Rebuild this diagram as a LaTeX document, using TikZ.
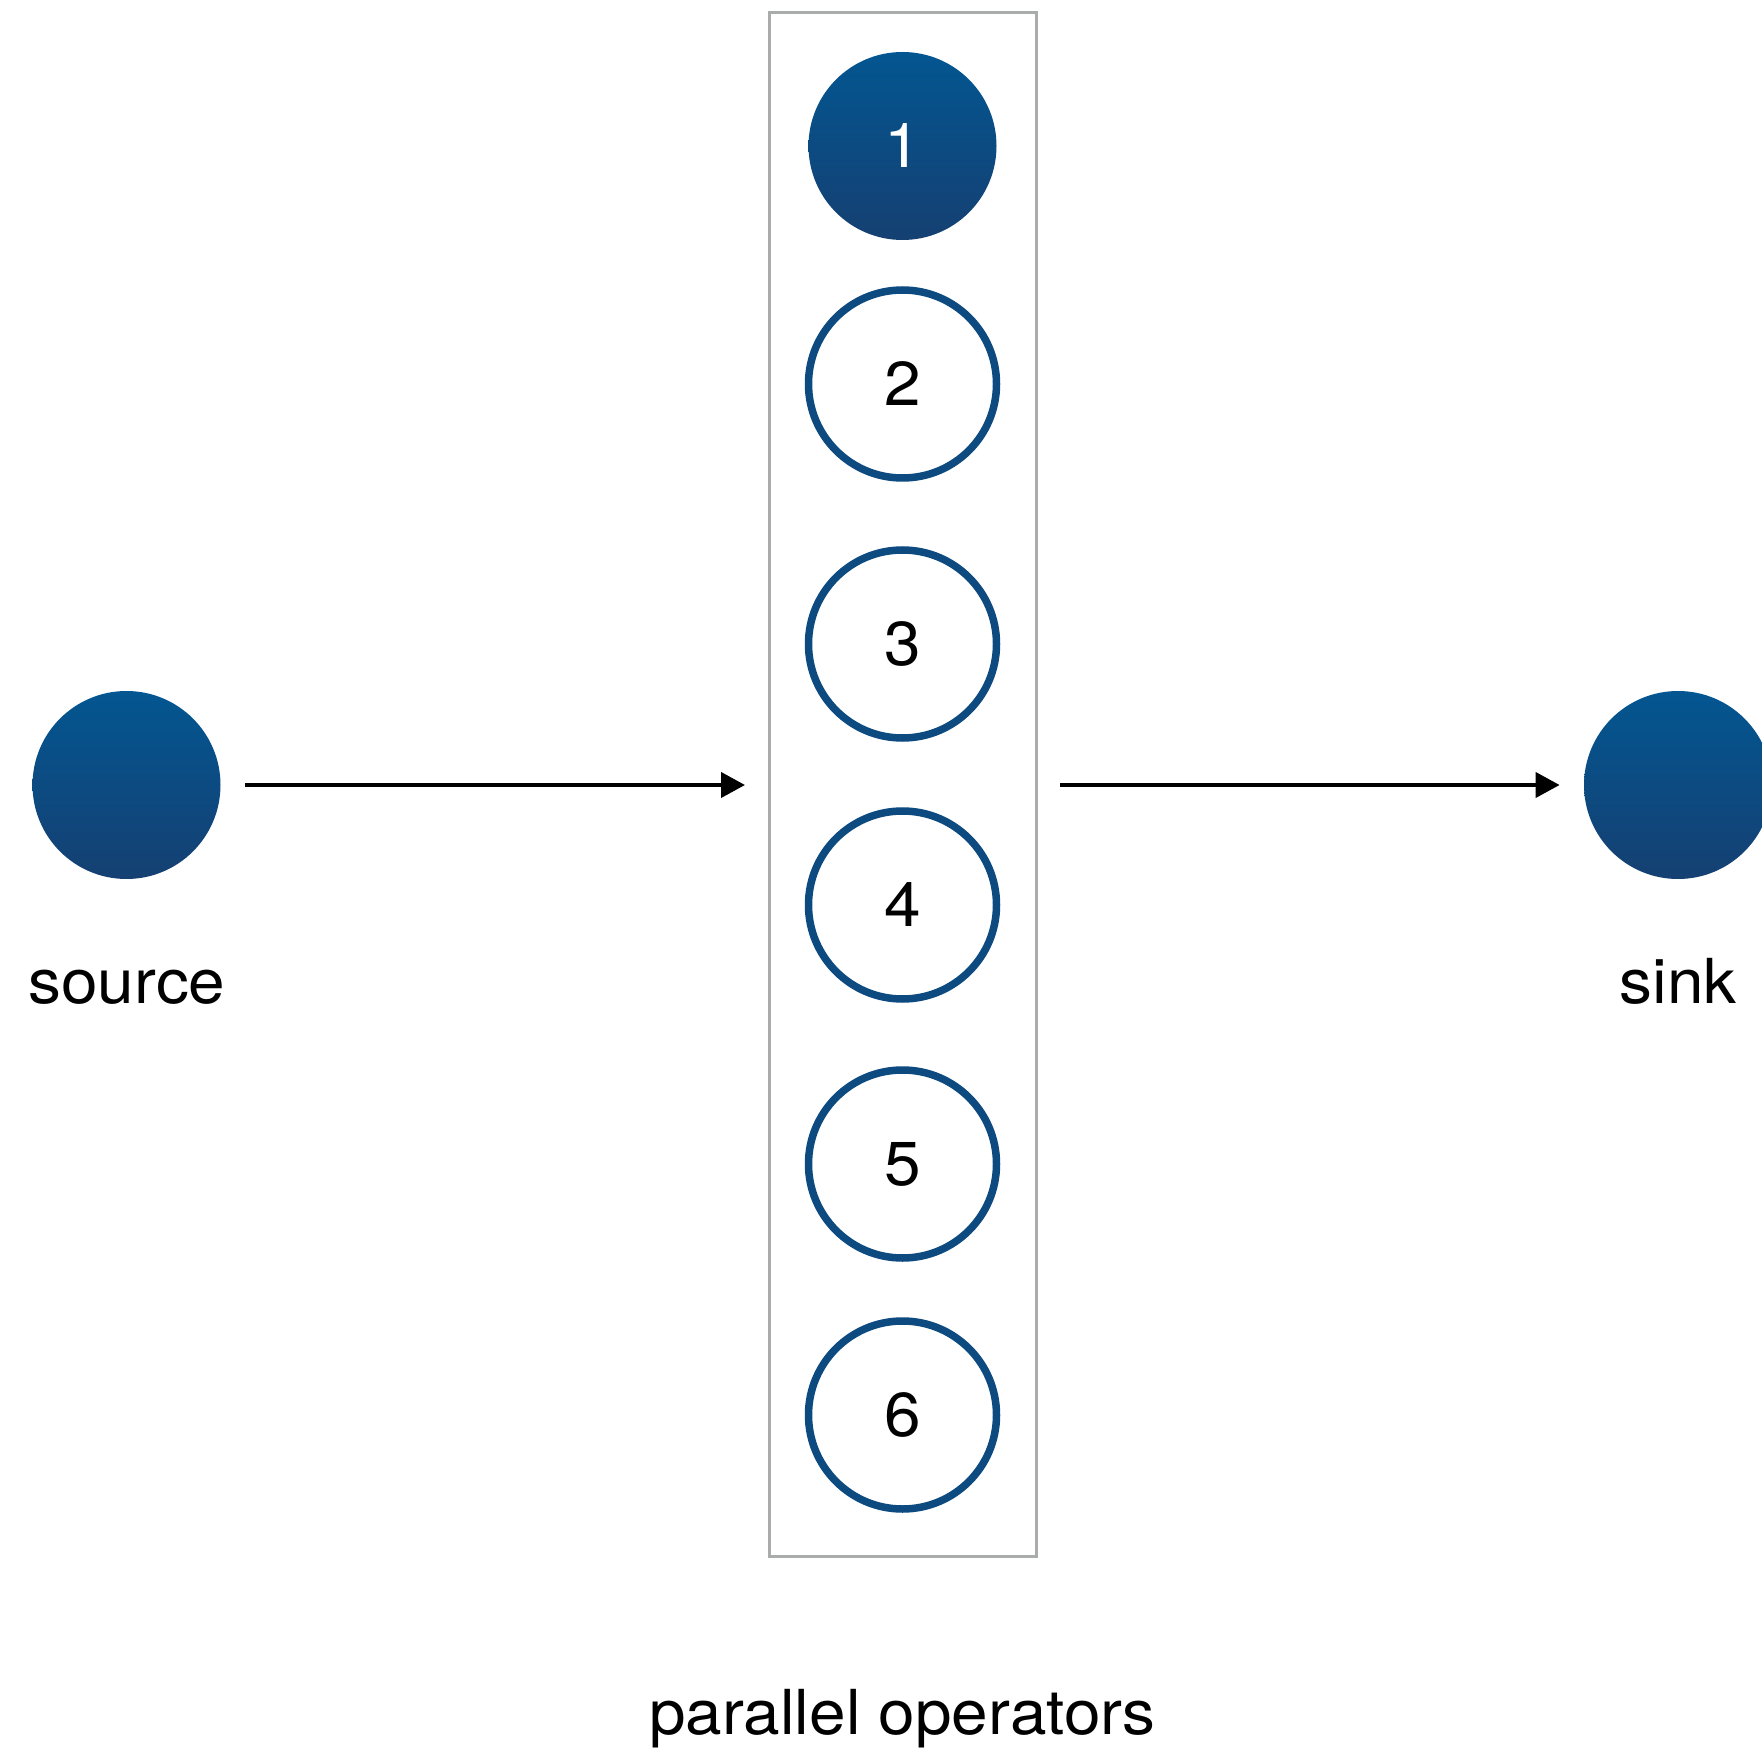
\documentclass[tikz,border=0pt]{standalone}
\usepackage{fontspec}
\setmainfont{TeX Gyre Heros}[FakeStretch=1.06]
\usetikzlibrary{arrows.meta}
\definecolor{topblue}{RGB}{3,86,145}
\definecolor{botblue}{RGB}{21,64,114}
\definecolor{ringblue}{RGB}{13,74,128}
\definecolor{boxgray}{RGB}{170,172,172}
\tikzset{
  solidop/.style={circle, minimum size=94pt, inner sep=0pt, top color=topblue, bottom color=botblue, draw=none, text=white, font=\fontsize{31}{36}\selectfont},
  ringop/.style={circle, minimum size=94pt, inner sep=0pt, draw=ringblue, line width=3.75pt, fill=white, text=black, font=\fontsize{31}{36}\selectfont},
  lbl/.style={anchor=base, inner sep=0pt, font=\fontsize{31}{36}\selectfont},
  flow/.style={draw=black, line width=2pt, -{Triangle[length=12pt,width=12.5pt]}, shorten >=12pt, shorten <=12pt}
}
\begin{document}
\begin{tikzpicture}[x=0.5pt,y=-0.5pt]
\useasboundingbox (0,0) rectangle (1762,1759);
\node[draw=boxgray, line width=1.5pt, minimum width=133.5pt, minimum height=771.5pt, inner sep=0pt, outer sep=0pt] (box) at (902.5,784.5) {};
\node[solidop] (op1) at (902.5,146) {1};
\node[ringop] (op2) at (902.5,384) {2};
\node[ringop] (op3) at (902.5,644) {3};
\node[ringop] (op4) at (902.5,905) {4};
\node[ringop] (op5) at (902.5,1164) {5};
\node[ringop] (op6) at (902.5,1415) {6};
\node[solidop] (source) at (126.5,785) {};
\node[solidop] (sink) at (1678,785) {};
\node[lbl] (sourcelbl) at (127,1003) {source};
\node[lbl] (sinklbl) at (1678,1003) {sink};
\node[lbl] (parlbl) at (902.5,1734) {parallel operators};
\coordinate (boxw) at (box.west |- source.east);
\coordinate (boxe) at (box.east |- sink.west);
\draw[flow] (source.east) -- (boxw);
\draw[flow] (boxe) -- (sink.west);
\end{tikzpicture}
\end{document}
